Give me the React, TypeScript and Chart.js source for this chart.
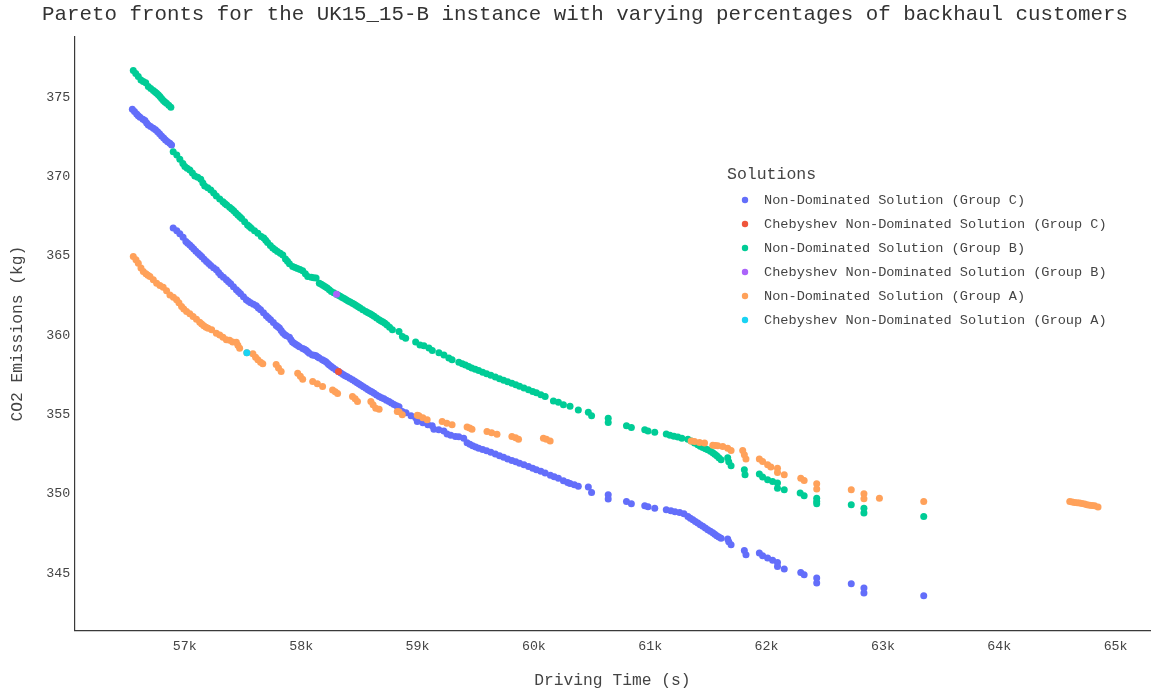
import React, { useEffect, useRef } from 'react';
import { Chart, registerables } from 'chart.js';

Chart.register(...registerables);

const CHART_TITLE = 'Pareto fronts for the UK15_15-B instance with varying percentages of backhaul customers';
const X_TITLE = 'Driving Time (s)';
const Y_TITLE = 'CO2 Emissions (kg)';
const LEGEND_TITLE = 'Solutions';

const X_TICKS = [57000, 58000, 59000, 60000, 61000, 62000, 63000, 64000, 65000];
const X_TICK_LABELS = ['57k', '58k', '59k', '60k', '61k', '62k', '63k', '64k', '65k'];
const Y_TICKS = [345, 350, 355, 360, 365, 370, 375];
const Y_TICK_LABELS = ['345', '350', '355', '360', '365', '370', '375'];

const SERIES_NAMES = [
  'Non-Dominated Solution (Group C)',
  'Chebyshev Non-Dominated Solution (Group C)',
  'Non-Dominated Solution (Group B)',
  'Chebyshev Non-Dominated Solution (Group B)',
  'Non-Dominated Solution (Group A)',
  'Chebyshev Non-Dominated Solution (Group A)',
];
const SERIES_COLORS = ['#636efa', '#ef553b', '#00cc96', '#ab63fa', '#ffa15a', '#19d3f3'];

// [driving time (s), CO2 (kg)]
const GROUP_C: [number, number][] = [
  [56549, 374.24], [56567, 374.10], [56586, 373.95], [56600, 373.84], [56615, 373.74], [56640, 373.62],
  [56657, 373.53], [56672, 373.38], [56686, 373.25], [56706, 373.16], [56729, 373.05], [56748, 372.95],
  [56766, 372.83], [56783, 372.70], [56800, 372.56], [56818, 372.43], [56834, 372.31], [56852, 372.20],
  [56871, 372.10], [56886, 371.99],
  [56900, 366.76], [56931, 366.58], [56957, 366.39], [56985, 366.17], [57009, 365.91], [57025, 365.80],
  [57043, 365.69], [57060, 365.56], [57077, 365.44], [57095, 365.30], [57114, 365.17], [57130, 365.06],
  [57146, 364.94], [57166, 364.79], [57186, 364.64], [57205, 364.52], [57223, 364.40], [57247, 364.26],
  [57271, 364.12], [57290, 363.96], [57308, 363.80], [57332, 363.65], [57357, 363.49], [57375, 363.37],
  [57394, 363.24], [57418, 363.05], [57443, 362.86], [57461, 362.74], [57479, 362.61], [57504, 362.42],
  [57528, 362.23], [57546, 362.14], [57565, 362.04], [57590, 361.95], [57614, 361.85], [57632, 361.72],
  [57651, 361.60], [57676, 361.41], [57700, 361.22], [57718, 361.10], [57737, 360.97], [57761, 360.80],
  [57785, 360.62], [57799, 360.54], [57813, 360.46], [57828, 360.30], [57842, 360.15], [57858, 360.05],
  [57873, 359.96], [57899, 359.87], [57912, 359.72], [57925, 359.58], [57940, 359.50], [57956, 359.42],
  [57970, 359.35], [57985, 359.27], [58013, 359.17], [58028, 359.11], [58042, 359.05], [58056, 358.96],
  [58070, 358.87], [58096, 358.76], [58112, 358.73], [58128, 358.70], [58142, 358.63], [58156, 358.57],
  [58182, 358.45], [58197, 358.39], [58213, 358.32], [58228, 358.22], [58242, 358.13], [58259, 358.03],
  [58276, 357.94], [58298, 357.82], [58321, 357.71], [58341, 357.62], [58361, 357.53], [58378, 357.45],
  [58396, 357.38], [58418, 357.28], [58441, 357.19], [58461, 357.10], [58481, 357.00], [58498, 356.92],
  [58515, 356.84], [58535, 356.75], [58556, 356.66], [58575, 356.57], [58593, 356.49], [58610, 356.42],
  [58627, 356.34], [58648, 356.23], [58670, 356.13], [58691, 356.06], [58712, 355.99], [58733, 355.90],
  [58755, 355.82], [58776, 355.73], [58798, 355.64], [58820, 355.56], [58841, 355.49], [58869, 355.19],
  [58901, 355.11], [58944, 354.92], [58984, 354.79], [58998, 354.56], [59046, 354.48], [59089, 354.35],
  [59126, 354.29], [59141, 354.08], [59183, 354.04], [59226, 353.97], [59254, 353.78], [59286, 353.69],
  [59326, 353.61], [59355, 353.60], [59397, 353.51], [59426, 353.22], [59450, 353.12],
  [59474, 353.03], [59500, 352.95], [59526, 352.88], [59560, 352.80], [59594, 352.71], [59630, 352.62],
  [59669, 352.52], [59705, 352.41], [59740, 352.30], [59775, 352.20], [59811, 352.10], [59845, 352.02],
  [59877, 351.93], [59915, 351.83], [59954, 351.72], [59990, 351.62], [60022, 351.52], [60060, 351.42],
  [60097, 351.31], [60142, 351.17], [60175, 351.08], [60211, 350.99], [60254, 350.82], [60290, 350.72],
  [60311, 350.65], [60348, 350.57], [60382, 350.48], [60468, 350.44], [60496, 350.09], [60639, 349.94],
  [60639, 349.67], [60796, 349.52], [60838, 349.37], [60953, 349.25], [60981, 349.18], [61039, 349.10],
  [61138, 349.00], [61178, 348.93], [61213, 348.87], [61253, 348.83], [61290, 348.74], [61324, 348.57],
  [61345, 348.47], [61367, 348.37], [61388, 348.26], [61409, 348.16], [61430, 348.06], [61452, 347.96],
  [61474, 347.85], [61495, 347.74], [61517, 347.65], [61538, 347.55], [61555, 347.45], [61572, 347.36],
  [61590, 347.28], [61609, 347.21], [61666, 347.15], [61675, 346.98], [61695, 346.79], [61809, 346.43],
  [61823, 346.16], [61938, 346.27], [61966, 346.10], [62009, 345.95], [62052, 345.81], [62094, 345.68],
  [62094, 345.42], [62152, 345.26], [62294, 345.05], [62323, 344.90], [62431, 344.69], [62431, 344.38],
  [62728, 344.33], [62837, 344.06], [62837, 343.75], [63351, 343.58],
];

const GROUP_C_CHEBYSHEV: [number, number][] = [[58321, 357.71]];

const GROUP_B: [number, number][] = [
  [56557, 376.68], [56578, 376.50], [56600, 376.30], [56623, 376.09], [56643, 376.00], [56664, 375.92],
  [56686, 375.67], [56707, 375.55], [56729, 375.42], [56745, 375.33], [56758, 375.25], [56772, 375.15],
  [56786, 375.04], [56800, 374.92], [56815, 374.79], [56829, 374.70], [56843, 374.62], [56862, 374.50],
  [56880, 374.37],
  [56900, 371.57], [56931, 371.36], [56957, 371.09], [56983, 370.83], [57000, 370.63], [57020, 370.52],
  [57043, 370.42], [57065, 370.22], [57086, 370.04], [57111, 369.95], [57137, 369.83], [57155, 369.60],
  [57171, 369.41], [57197, 369.29], [57223, 369.16], [57248, 368.97], [57271, 368.78], [57300, 368.59],
  [57328, 368.42], [57344, 368.31], [57360, 368.21], [57385, 368.07], [57403, 367.96], [57420, 367.84],
  [57438, 367.71], [57456, 367.58], [57472, 367.47], [57488, 367.36], [57514, 367.16], [57539, 366.95],
  [57555, 366.85], [57571, 366.75], [57599, 366.58], [57628, 366.43], [57657, 366.23], [57679, 366.12],
  [57695, 365.98], [57711, 365.85], [57735, 365.65], [57756, 365.49], [57776, 365.38], [57796, 365.28],
  [57820, 365.17], [57842, 365.06], [57865, 364.81], [57882, 364.66], [57899, 364.50], [57927, 364.33],
  [57948, 364.27], [57968, 364.21], [57990, 364.14], [58013, 364.07], [58036, 363.87], [58056, 363.70],
  [58087, 363.65], [58108, 363.62], [58128, 363.60], [58156, 363.28], [58173, 363.21], [58190, 363.14],
  [58207, 363.06], [58224, 362.98], [58242, 362.87], [58259, 362.76], [58280, 362.68], [58304, 362.59],
  [58320, 362.52], [58336, 362.45], [58353, 362.38], [58370, 362.32], [58387, 362.24], [58404, 362.16],
  [58422, 362.09], [58441, 362.02], [58457, 361.95], [58473, 361.88], [58490, 361.80], [58507, 361.72],
  [58530, 361.60], [58556, 361.49], [58575, 361.42], [58593, 361.35], [58610, 361.27], [58627, 361.19],
  [58648, 361.08], [58670, 360.97], [58687, 360.90], [58704, 360.84], [58720, 360.75], [58738, 360.65],
  [58760, 360.50], [58784, 360.34], [58841, 360.23], [58870, 359.92], [58898, 359.81], [58984, 359.58],
  [59021, 359.39], [59055, 359.33], [59098, 359.20], [59127, 359.03], [59184, 358.89], [59227, 358.76],
  [59269, 358.57], [59297, 358.45], [59355, 358.29], [59385, 358.20], [59412, 358.13], [59440, 358.03],
  [59466, 357.94], [59496, 357.85], [59526, 357.77], [59560, 357.67], [59594, 357.57], [59630, 357.47],
  [59669, 357.36], [59705, 357.26], [59740, 357.16], [59775, 357.07], [59811, 356.98], [59845, 356.88],
  [59877, 356.78], [59915, 356.67], [59954, 356.56], [59990, 356.46], [60022, 356.37], [60060, 356.25],
  [60097, 356.13], [60168, 355.86], [60211, 355.77], [60254, 355.61], [60311, 355.52], [60382, 355.28],
  [60468, 355.14], [60496, 354.92], [60639, 354.77], [60639, 354.50], [60796, 354.29], [60838, 354.18],
  [60953, 354.04], [60981, 353.97], [61039, 353.89], [61138, 353.77], [61170, 353.69], [61204, 353.63],
  [61238, 353.58], [61272, 353.50], [61324, 353.45], [61352, 353.33], [61381, 353.20], [61409, 353.09],
  [61430, 353.00], [61452, 352.93], [61475, 352.85], [61495, 352.78], [61518, 352.68], [61538, 352.59],
  [61555, 352.50], [61572, 352.40], [61590, 352.28], [61609, 352.15], [61666, 352.27], [61675, 352.02],
  [61695, 351.77], [61809, 351.52], [61815, 351.20], [61938, 351.25], [61966, 351.06], [62009, 350.89],
  [62052, 350.78], [62094, 350.68], [62094, 350.36], [62152, 350.26], [62289, 350.05], [62323, 349.88],
  [62431, 349.73], [62431, 349.52], [62431, 349.37], [62728, 349.31], [62837, 349.10], [62837, 348.79],
  [63351, 348.57],
];

const GROUP_B_CHEBYSHEV: [number, number][] = [[58304, 362.59]];

const GROUP_A: [number, number][] = [
  [56557, 364.96], [56580, 364.75], [56600, 364.54], [56623, 364.24], [56643, 364.01], [56666, 363.87],
  [56683, 363.78], [56700, 363.70], [56729, 363.49], [56758, 363.28], [56786, 363.14], [56814, 363.02],
  [56843, 362.80], [56872, 362.54], [56902, 362.39], [56929, 362.23], [56949, 362.04], [56972, 361.81],
  [56991, 361.66], [57015, 361.49], [57043, 361.35], [57071, 361.18], [57100, 361.00], [57128, 360.81],
  [57145, 360.70], [57163, 360.59], [57182, 360.51], [57200, 360.44], [57231, 360.34], [57271, 360.13],
  [57300, 360.02], [57328, 359.87], [57357, 359.71], [57385, 359.68], [57411, 359.58], [57443, 359.55],
  [57456, 359.36], [57471, 359.18], [57533, 358.90], [57585, 358.83], [57608, 358.61], [57628, 358.45],
  [57651, 358.29], [57670, 358.20], [57785, 358.16], [57805, 357.94], [57828, 357.71], [57970, 357.61],
  [57993, 357.41], [58013, 357.23], [58099, 357.08], [58139, 356.94], [58184, 356.76], [58270, 356.54],
  [58293, 356.43], [58313, 356.32], [58441, 356.13], [58464, 355.99], [58484, 355.82], [58599, 355.82],
  [58618, 355.61], [58641, 355.40], [58670, 355.34], [58826, 355.19], [58841, 355.17], [58869, 354.98],
  [58998, 354.95], [59012, 354.92], [59046, 354.79], [59083, 354.67], [59212, 354.56], [59252, 354.45],
  [59297, 354.35], [59426, 354.21], [59448, 354.15], [59468, 354.08], [59597, 353.93], [59637, 353.85],
  [59683, 353.75], [59811, 353.61], [59843, 353.53], [59868, 353.45], [60082, 353.51], [60108, 353.44],
  [60140, 353.34],
  [61352, 353.34], [61381, 353.30], [61424, 353.24], [61467, 353.20], [61538, 353.07], [61560, 353.05],
  [61581, 353.03], [61624, 352.98], [61666, 352.88], [61695, 352.73], [61795, 352.73], [61809, 352.46],
  [61823, 352.19], [61938, 352.19], [61966, 352.04], [62009, 351.83], [62037, 351.69], [62094, 351.62],
  [62094, 351.35], [62152, 351.20], [62294, 350.99], [62323, 350.84], [62431, 350.63], [62431, 350.30],
  [62728, 350.26], [62837, 350.00], [62837, 349.69], [62970, 349.73], [63351, 349.52],
  [64606, 349.52], [64627, 349.49], [64648, 349.46], [64670, 349.44], [64691, 349.42], [64712, 349.39],
  [64734, 349.36], [64755, 349.32], [64777, 349.29], [64798, 349.27], [64820, 349.25], [64849, 349.17],
];

const GROUP_A_CHEBYSHEV: [number, number][] = [[57533, 358.90]];

const SERIES_DATA = [GROUP_C, GROUP_C_CHEBYSHEV, GROUP_B, GROUP_B_CHEBYSHEV, GROUP_A, GROUP_A_CHEBYSHEV];

const FONT = '"Liberation Mono", "Courier New", monospace';
const TEXT_COLOR = '#444';

const legendPlugin = {
  id: 'solutionsLegend',
  afterDraw(chart: any) {
    const ctx = chart.ctx;
    ctx.save();
    ctx.textBaseline = 'middle';
    ctx.textAlign = 'left';
    ctx.fillStyle = TEXT_COLOR;
    ctx.font = `16.5px ${FONT}`;
    ctx.fillText(LEGEND_TITLE, 727, 175);
    ctx.font = `13.6px ${FONT}`;
    chart.data.datasets.forEach((ds: any, i: number) => {
      const y = 200 + i * 24;
      ctx.beginPath();
      ctx.arc(745, y, 3.2, 0, Math.PI * 2);
      ctx.fillStyle = ds.backgroundColor;
      ctx.fill();
      ctx.fillStyle = TEXT_COLOR;
      ctx.fillText(ds.label, 764, y);
    });
    ctx.restore();
  },
};

export default function App() {
  const canvasRef = useRef<HTMLCanvasElement | null>(null);

  useEffect(() => {
    if (!canvasRef.current) return;
    const datasets = SERIES_DATA.map((series, i) => ({
      label: SERIES_NAMES[i],
      data: series.map(([x, y]) => ({ x, y })),
      backgroundColor: SERIES_COLORS[i],
      borderColor: SERIES_COLORS[i],
      borderWidth: 0,
      pointRadius: 3.5,
      pointHoverRadius: 3.5,
      order: SERIES_DATA.length - i,
    }));

    const chart = new Chart(canvasRef.current, {
      type: 'scatter',
      data: { datasets },
      plugins: [legendPlugin],
      options: {
        responsive: false,
        devicePixelRatio: 1,
        animation: false,
        events: [],
        layout: { padding: { left: 16, top: 0, right: 0, bottom: 0 } },
        plugins: {
          legend: { display: false },
          tooltip: { enabled: false },
          title: {
            display: true,
            text: CHART_TITLE,
            color: '#333',
            font: { family: FONT, size: 20.8, weight: 'normal' },
            padding: { top: 2, bottom: 10 },
          },
        },
        scales: {
          x: {
            type: 'linear',
            min: 56050,
            max: 65300,
            grid: { display: false, drawTicks: false },
            border: { display: true, color: '#3a3a3a', width: 1.2 },
            afterBuildTicks: (scale: any) => {
              scale.ticks = X_TICKS.map((v) => ({ value: v }));
            },
            afterFit: (scale: any) => {
              scale.height = 63.7;
            },
            ticks: {
              autoSkip: false,
              maxRotation: 0,
              padding: 8.4,
              color: TEXT_COLOR,
              font: { family: FONT, size: 13.3 },
              callback: (value: any) => X_TICK_LABELS[X_TICKS.indexOf(Number(value))] ?? '',
            },
            title: {
              display: true,
              text: X_TITLE,
              color: TEXT_COLOR,
              font: { family: FONT, size: 16.3 },
              padding: { top: 0, bottom: 3.5 },
            },
          },
          y: {
            type: 'linear',
            min: 341.4,
            max: 378.8,
            grid: { display: false, drawTicks: false },
            border: { display: true, color: '#3a3a3a', width: 1.2 },
            afterBuildTicks: (scale: any) => {
              scale.ticks = Y_TICKS.map((v) => ({ value: v }));
            },
            afterFit: (scale: any) => {
              scale.width = 58.3;
            },
            ticks: {
              autoSkip: false,
              padding: 4,
              color: TEXT_COLOR,
              font: { family: FONT, size: 13.3 },
              callback: (value: any) => Y_TICK_LABELS[Y_TICKS.indexOf(Number(value))] ?? '',
            },
            title: {
              display: true,
              text: Y_TITLE,
              color: TEXT_COLOR,
              font: { family: FONT, size: 16.3 },
              padding: { top: -8.3, bottom: 0 },
            },
          },
        },
      } as any,
    });
    return () => chart.destroy();
  }, []);

  return (
    <div style={{ position: 'fixed', left: 0, top: 0, width: 1154, height: 694, background: '#fff' }}>
      <canvas ref={canvasRef} width={1154} height={694} style={{ display: 'block' }} />
    </div>
  );
}
